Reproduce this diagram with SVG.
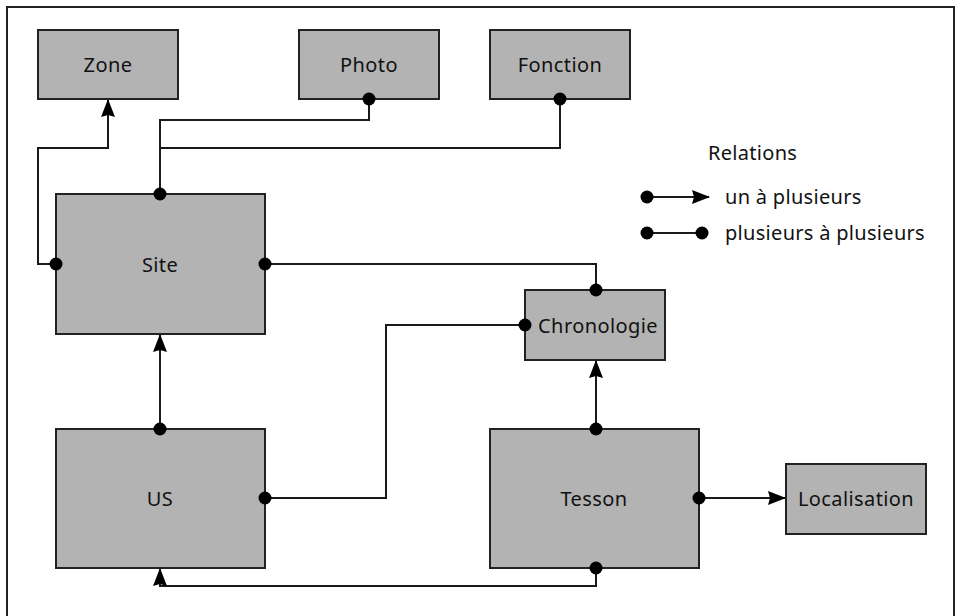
<svg xmlns="http://www.w3.org/2000/svg" width="962" height="616" viewBox="0 0 962 616">
<style>
.box{fill:#b3b3b3;stroke:#222;stroke-width:2}
.lbl{font-family:"Noto Sans","Liberation Sans",sans-serif;font-size:20px;letter-spacing:0.4px;fill:#111;text-anchor:middle}
.leg{font-family:"Noto Sans","Liberation Sans",sans-serif;font-size:20px;letter-spacing:0.3px;fill:#111}
.ln{fill:none;stroke:#1a1a1a;stroke-width:2}
.dot{fill:#000}
</style>
<defs>
<marker id="arr" viewBox="0 0 18 14" refX="17" refY="7" markerWidth="18" markerHeight="14" markerUnits="userSpaceOnUse" orient="auto" overflow="visible">
<path d="M0,0 L18,7 L0,14 L2,7 Z" fill="#000"/>
</marker>
</defs>
<rect x="7" y="7" width="947" height="620" fill="#fff" stroke="#222" stroke-width="2"/>

<g id="connectors">
<path class="ln" d="M56,264 H38 V148 H108 V100" marker-end="url(#arr)"/>
<path class="ln" d="M160,194 V120 H369 V99"/>
<path class="ln" d="M160,148 H560 V99"/>
<path class="ln" d="M265,264 H596 V290"/>
<path class="ln" d="M265,498 H386 V325 H525"/>
<path class="ln" d="M160,429 V335" marker-end="url(#arr)"/>
<path class="ln" d="M596,429 V361" marker-end="url(#arr)"/>
<path class="ln" d="M699,498 H785" marker-end="url(#arr)"/>
<path class="ln" d="M596,568 V586 H160 V569" marker-end="url(#arr)"/>
</g>

<g id="zone"><rect class="box" x="38" y="30" width="140" height="69"/><text class="lbl" x="108" y="72">Zone</text></g>
<g id="photo"><rect class="box" x="299" y="30" width="140" height="69"/><text class="lbl" x="369" y="72">Photo</text></g>
<g id="fonction"><rect class="box" x="490" y="30" width="140" height="69"/><text class="lbl" x="560" y="72">Fonction</text></g>
<g id="site"><rect class="box" x="56" y="194" width="209" height="140"/><text class="lbl" x="160" y="272">Site</text></g>
<g id="chronologie"><rect class="box" x="525" y="290" width="140" height="70"/><text class="lbl" x="598" y="333">Chronologie</text></g>
<g id="us"><rect class="box" x="56" y="429" width="209" height="139"/><text class="lbl" x="160" y="506">US</text></g>
<g id="tesson"><rect class="box" x="490" y="429" width="209" height="139"/><text class="lbl" x="594" y="506">Tesson</text></g>
<g id="localisation"><rect class="box" x="786" y="464" width="140" height="70"/><text class="lbl" x="856" y="506">Localisation</text></g>

<g id="dots">
<circle class="dot" cx="56" cy="264" r="6.5"/>
<circle class="dot" cx="160" cy="194" r="6.5"/>
<circle class="dot" cx="369" cy="99" r="6.5"/>
<circle class="dot" cx="560" cy="99" r="6.5"/>
<circle class="dot" cx="265" cy="264" r="6.5"/>
<circle class="dot" cx="596" cy="290" r="6.5"/>
<circle class="dot" cx="265" cy="498" r="6.5"/>
<circle class="dot" cx="525" cy="325" r="6.5"/>
<circle class="dot" cx="160" cy="429" r="6.5"/>
<circle class="dot" cx="596" cy="429" r="6.5"/>
<circle class="dot" cx="699" cy="498" r="6.5"/>
<circle class="dot" cx="596" cy="568" r="6.5"/>
</g>

<g id="legend">
<text class="leg" x="708" y="160">Relations</text>
<path class="ln" d="M647,197 H709" marker-end="url(#arr)"/>
<circle class="dot" cx="647" cy="197" r="6.5"/>
<text class="leg" x="725" y="204">un à plusieurs</text>
<path class="ln" d="M647,233 H702"/>
<circle class="dot" cx="647" cy="233" r="6.5"/>
<circle class="dot" cx="702" cy="233" r="6.5"/>
<text class="leg" x="725" y="240">plusieurs à plusieurs</text>
</g>
</svg>
